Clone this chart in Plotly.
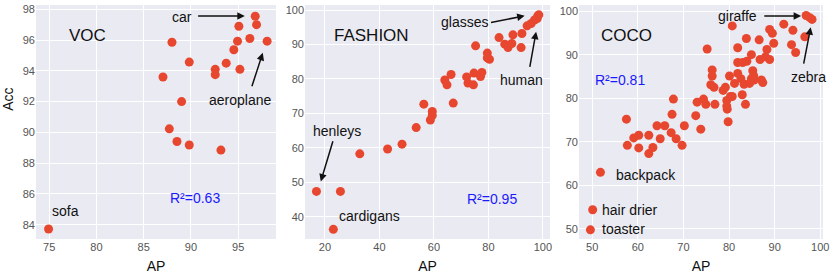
import plotly.graph_objects as go

# ---------------- data ----------------
voc_ap = [74.93, 96.8, 96.94, 95.07, 96.23, 98.06, 94.93, 87.99, 94.54, 89.82,
          93.73, 95.18, 92.57, 92.57, 87.04, 89.01, 87.71, 88.52, 89.82, 93.17]
voc_acc = [83.72, 97.55, 97.0, 96.9, 96.1, 95.93, 95.93, 95.86, 95.37, 94.57,
           94.5, 94.1, 94.1, 93.75, 93.6, 92.0, 90.23, 89.41, 89.18, 88.85]

fashion_ap = [16.9, 25.7, 23.1, 32.8, 43.0, 48.3, 53.5, 56.3, 58.7, 59.4,
              59.4, 67.1, 64.0, 64.8, 66.3, 72.0, 72.5, 74.5, 74.7, 77.1,
              77.6, 75.3, 79.6, 79.6, 80.4, 83.9, 86.0, 87.2, 88.6, 89.0,
              92.0, 92.3, 94.2, 95.7, 96.9, 98.1, 97.9, 98.5]
fashion_acc = [47.4, 47.4, 36.4, 58.3, 59.7, 61.1, 65.9, 72.7, 68.1, 69.4,
               70.6, 73.0, 79.7, 78.3, 81.3, 80.6, 78.8, 78.3, 81.7, 80.7,
               81.9, 89.6, 87.5, 86.1, 85.7, 92.0, 90.1, 89.1, 90.3, 92.8,
               89.1, 93.2, 95.4, 96.1, 97.1, 98.3, 97.5, 98.6]

coco_ap = [49.6, 50.1, 51.8, 57.5, 57.7, 59.1, 60.2, 60.2, 62.4, 62.4,
           63.3, 64.2, 65.9, 64.9, 67.3, 67.5, 67.8, 68.4, 69.7, 70.2,
           72.7, 73.0, 73.8, 74.4, 74.9, 75.2, 76.3, 76.3, 76.0, 76.7,
           76.9, 78.7, 79.2, 79.5, 79.5, 79.6, 79.8, 80.1, 80.3, 80.7,
           80.7, 81.2, 81.9, 81.9, 81.9, 82.6, 82.9, 83.0, 83.3, 83.6,
           83.8, 83.9, 84.5, 84.9, 84.9, 85.2, 85.4, 85.5, 86.6, 86.8,
           87.1, 87.4, 88.0, 88.3, 88.9, 88.9, 89.5, 89.8, 92.0, 94.0,
           93.7, 94.6, 96.6, 96.9, 98.2, 97.7]
coco_acc = [49.8, 54.4, 63.0, 75.2, 69.2, 70.9, 71.5, 68.6, 71.5, 67.3,
            68.7, 73.7, 73.7, 70.7, 72.1, 76.3, 79.8, 70.7, 69.2, 73.7,
            76.0, 79.1, 72.9, 79.8, 78.6, 91.3, 86.5, 85.1, 83.1, 82.5,
            78.6, 81.8, 82.5, 79.5, 78.2, 77.5, 74.6, 85.1, 80.4, 80.4,
            96.6, 83.4, 91.6, 88.2, 85.7, 84.5, 80.8, 88.2, 83.2, 78.6,
            93.7, 88.5, 83.4, 90.0, 84.5, 86.3, 85.2, 84.2, 93.4, 88.9,
            84.2, 83.6, 89.5, 91.2, 95.8, 88.9, 94.9, 92.6, 97.0, 95.6,
            92.3, 90.5, 94.1, 99.0, 98.1, 98.5]

panel_names = ["VOC", "FASHION", "COCO"]
r2_labels = ["R²=0.63", "R²=0.95", "R²=0.81"]

# ---------------- style ----------------
FONT = "Liberation Sans, Arial, sans-serif"
BG = "#EAEAF2"
RED = "#E8472F"
TICK = "#555555"

fig = go.Figure()
series = [(voc_ap, voc_acc), (fashion_ap, fashion_acc), (coco_ap, coco_acc)]
for i, (xs, ys) in enumerate(series):
    fig.add_trace(go.Scatter(
        x=xs, y=ys, mode="markers",
        marker=dict(color=RED, size=9, line=dict(width=0)),
        xaxis="x" if i == 0 else f"x{i+1}",
        yaxis="y" if i == 0 else f"y{i+1}",
        showlegend=False, hoverinfo="skip"))

W, H = 831, 274
domains = [(36 / W, 276 / W), (305 / W, 550 / W), (579 / W, 823 / W)]
xranges = [[73.6, 99.0], [12.7, 102.6], [47.1, 100.6]]
yranges = [[83.07, 98.28], [33.6, 101.45], [47.7, 101.4]]
xticks = [[75, 80, 85, 90, 95], [20, 40, 60, 80, 100], [50, 60, 70, 80, 90, 100]]
yticks = [[84, 86, 88, 90, 92, 94, 96, 98], [40, 50, 60, 70, 80, 90, 100],
          [50, 60, 70, 80, 90, 100]]

layout = dict(
    width=W, height=H,
    margin=dict(l=0, r=0, t=5, b=35),
    paper_bgcolor="white",
    plot_bgcolor=BG,
    font=dict(family=FONT, color="#000000"),
)
for i in range(3):
    sx = "" if i == 0 else str(i + 1)
    layout[f"xaxis{sx}"] = dict(
        domain=list(domains[i]), range=xranges[i], tickvals=xticks[i],
        showgrid=True, gridcolor="white", gridwidth=1, zeroline=False,
        showline=False, ticks="", automargin=False,
        tickfont=dict(family=FONT, size=11, color=TICK),
        title=dict(text="AP", font=dict(family=FONT, size=14, color="#111"), standoff=9),
        anchor="y" if i == 0 else f"y{i+1}",
    )
    layout[f"yaxis{sx}"] = dict(
        domain=[0, 1], range=yranges[i], tickvals=yticks[i],
        showgrid=True, gridcolor="white", gridwidth=1, zeroline=False,
        showline=False, ticks="", automargin=False,
        tickfont=dict(family=FONT, size=11, color=TICK),
        anchor="x" if i == 0 else f"x{i+1}",
    )
fig.update_layout(**layout)

ann = []

def txt(ref, x, y, text, size=14, color="#111", xanchor="center"):
    ann.append(dict(xref="x" + ref, yref="y" + ref, x=x, y=y, text=text,
                    showarrow=False, xanchor=xanchor, yanchor="middle",
                    font=dict(family=FONT, size=size, color=color)))

def arrow(ref, x0, y0, x1, y1):
    ann.append(dict(xref="x" + ref, yref="y" + ref, axref="x" + ref, ayref="y" + ref,
                    x=x1, y=y1, ax=x0, ay=y0, text="", showarrow=True,
                    arrowhead=2, arrowsize=1, arrowwidth=1.5, arrowcolor="#111",
                    standoff=0, startstandoff=0))

# VOC
txt("", 79.1, 96.27, panel_names[0], size=17)
txt("", 89.0, 97.5, "car")
arrow("", 90.6, 97.57, 95.7, 97.57)
txt("", 95.2, 92.13, "aeroplane")
arrow("", 96.4, 92.9, 97.6, 95.17)
txt("", 76.7, 84.88, "sofa")
txt("", 90.4, 85.73, r2_labels[0], color="#1a1aff")

# FASHION
txt("2", 37.1, 92.5, panel_names[1], size=17)
txt("2", 71.3, 96.6, "glasses")
arrow("2", 80.4, 96.3, 93.3, 98.3)
txt("2", 92.0, 79.7, "human")
arrow("2", 95.1, 83.1, 97.5, 93.7)
txt("2", 24.3, 64.8, "henleys")
arrow("2", 23.1, 62.4, 18.5, 50.3)
txt("2", 36.5, 40.4, "cardigans")
txt("2", 81.4, 45.3, r2_labels[1], color="#1a1aff")

# COCO
txt("3", 57.6, 94.3, panel_names[2], size=17)
txt("3", 56.0, 84.2, r2_labels[2], color="#1a1aff")
txt("3", 81.9, 98.9, "giraffe")
arrow("3", 87.4, 98.9, 95.8, 98.9)
txt("3", 97.5, 84.8, "zebra")
arrow("3", 96.3, 87.6, 97.9, 96.3)
txt("3", 54.7, 62.3, "backpack", xanchor="left")
txt("3", 51.6, 54.3, "hair drier", xanchor="left")
txt("3", 51.6, 50.0, "toaster", xanchor="left")

# Acc y title
ann.append(dict(xref="paper", yref="paper", x=8 / W, y=1 - 111 / H, text="Acc",
                showarrow=False, textangle=-90, xanchor="center", yanchor="middle",
                font=dict(family=FONT, size=14, color="#111")))

fig.update_layout(annotations=ann)
fig.write_html("out.html", config={"displayModeBar": False},
               post_script="document.body.style.margin='0';document.body.style.padding='0';")
